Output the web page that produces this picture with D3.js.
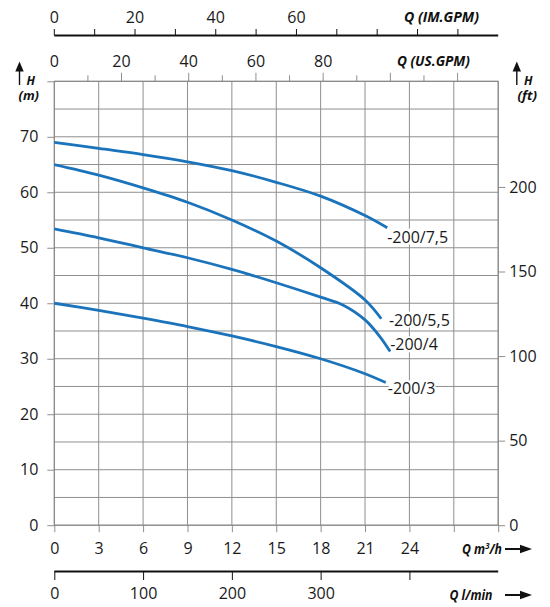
<!DOCTYPE html>
<html>
<head>
<meta charset="utf-8">
<script src="https://cdn.jsdelivr.net/npm/d3@7"></script>
<style>
  html, body { margin: 0; padding: 0; background: #fff; }
  svg { display: block; }
  text { font-family: "Open Sans", "Noto Sans", sans-serif; }
</style>
</head>
<body>
<svg id="chart" width="550" height="607"></svg>
<script>
// Pump performance curves: head H versus flow Q for four pump models

const seriesNames = ["-200/7,5", "-200/5,5", "-200/4", "-200/3"];

const flow75 = [0, 3, 6, 9, 12, 15, 18, 21, 22.5];
const head75 = [69.0, 67.9, 66.8, 65.5, 63.9, 61.8, 59.3, 55.8, 53.6];

const flow55 = [0, 3, 6, 9, 12, 15, 18, 21, 22.1];
const head55 = [65.0, 63.1, 60.8, 58.2, 55.0, 51.2, 46.4, 40.6, 37.2];

const flow4 = [0, 3, 6, 9, 12, 15, 18, 19.5, 21, 22, 22.7];
const head4 = [53.4, 51.8, 50.0, 48.2, 46.1, 43.7, 41.1, 39.7, 37.0, 34.0, 31.3];

const flow3 = [0, 3, 6, 9, 12, 15, 18, 21, 22.4];
const head3 = [40.0, 38.7, 37.3, 35.8, 34.1, 32.2, 30.0, 27.3, 25.7];

// Tick labels for every scale
const flowTicksM3h = [0, 3, 6, 9, 12, 15, 18, 21, 24];
const flowTicksLmin = [0, 100, 200, 300];
const flowTicksUsGpm = [0, 20, 40, 60, 80];
const flowTicksImGpm = [0, 20, 40, 60];
const headTicksM = [0, 10, 20, 30, 40, 50, 60, 70];
const headTicksFt = [0, 50, 100, 150, 200];

// Unit conversions from m3/h and metres
const M3H_TO_LMIN = 1000 / 60;
const M3H_TO_USGPM = 4.402868;
const M3H_TO_IMGPM = 3.666154;
const M_TO_FT = 1 / 0.3048;

const svg = d3.select("#chart");
const FONT = 16;
const GRID = "#8f8f8f";
const BLUE = "#1b74bb";

// Primary scales
const x = d3.scaleLinear().domain([0, 30]).range([54.3, 498.2]);
const y = d3.scaleLinear().domain([0, 80]).range([525.2, 81.3]);

// Secondary scales sharing the same pixel ranges
const xLmin = d3.scaleLinear().domain(x.domain().map(d => d * M3H_TO_LMIN)).range(x.range());
const xUs = d3.scaleLinear().domain(x.domain().map(d => d * M3H_TO_USGPM)).range(x.range());
const xIm = d3.scaleLinear().domain(x.domain().map(d => d * M3H_TO_IMGPM)).range(x.range());
const yFt = d3.scaleLinear().domain(y.domain().map(d => d * M_TO_FT)).range(y.range());

const [x0, x1] = x.range();
const [yBottom, yTop] = y.range();

// ---- Grid ----
const grid = svg.append("g").attr("stroke", GRID).attr("stroke-width", 1);
grid.selectAll(".v").data(d3.range(0, 31, 3)).join("line")
  .attr("x1", d => x(d)).attr("x2", d => x(d))
  .attr("y1", yTop).attr("y2", yBottom);
grid.selectAll(".h").data(d3.range(0, 81, 5)).join("line")
  .attr("x1", x0).attr("x2", x1)
  .attr("y1", d => y(d)).attr("y2", d => y(d));

function styleAxis(g, color) {
  g.select(".domain").remove();
  g.selectAll(".tick line").attr("stroke", color).attr("stroke-width", 1);
  g.selectAll(".tick text")
    .attr("font-family", "'Open Sans', 'Noto Sans', sans-serif")
    .attr("font-size", FONT).attr("fill", "#1a1a1a");
}

// ---- Left axis: metres ----
svg.append("g").attr("transform", `translate(${x0},0)`)
  .call(d3.axisLeft(y).tickValues(d3.range(0, 81, 10)).tickSize(7).tickPadding(9)
    .tickFormat(d => headTicksM.includes(d) ? d : ""))
  .call(g => styleAxis(g, GRID));

// ---- Right axis: feet ----
svg.append("g").attr("transform", `translate(${x1},0)`)
  .call(d3.axisRight(yFt).tickValues(headTicksFt).tickSize(7).tickPadding(4))
  .call(g => styleAxis(g, GRID));

// ---- Bottom axis: m3/h ----
svg.append("g").attr("transform", `translate(0,${yBottom})`)
  .call(d3.axisBottom(x).tickValues(d3.range(0, 31, 3)).tickSize(7).tickPadding(10)
    .tickFormat(d => flowTicksM3h.includes(d) ? d : ""))
  .call(g => styleAxis(g, GRID));

// ---- Lower axis: l/min ----
const yLmin = 571.5;
svg.append("line").attr("x1", x0).attr("x2", x1).attr("y1", yLmin).attr("y2", yLmin)
  .attr("stroke", "#111").attr("stroke-width", 2);
svg.append("g").attr("transform", `translate(0,${yLmin})`)
  .call(d3.axisBottom(xLmin).tickValues([0, 100, 200, 300, 400]).tickSize(8.5).tickPadding(8)
    .tickFormat(d => flowTicksLmin.includes(d) ? d : ""))
  .call(g => styleAxis(g, "#111"));

// ---- Upper axis on the frame: US gallons per minute ----
const usTicks = d3.range(10, 121, 10);
svg.append("g").selectAll("line").data(usTicks).join("line")
  .attr("x1", d => xUs(d)).attr("x2", d => xUs(d))
  .attr("y1", yTop).attr("y2", d => yTop - (d % 20 === 0 ? 8.5 : 6))
  .attr("stroke", GRID).attr("stroke-width", 1);
svg.append("g").selectAll("text").data(flowTicksUsGpm).join("text")
  .attr("x", d => xUs(d)).attr("y", 66.8)
  .attr("text-anchor", "middle").attr("font-size", FONT).attr("fill", "#1a1a1a")
  .text(d => d);

// ---- Topmost axis: imperial gallons per minute ----
const yIm = 35.5;
svg.append("line").attr("x1", x0).attr("x2", x1).attr("y1", yIm).attr("y2", yIm)
  .attr("stroke", "#111").attr("stroke-width", 2);
svg.append("g").selectAll("line").data(d3.range(0, 101, 10)).join("line")
  .attr("x1", d => xIm(d)).attr("x2", d => xIm(d))
  .attr("y1", yIm).attr("y2", yIm - 6.5)
  .attr("stroke", "#111").attr("stroke-width", 1);
svg.append("g").selectAll("text").data(flowTicksImGpm).join("text")
  .attr("x", d => xIm(d)).attr("y", 23.4)
  .attr("text-anchor", "middle").attr("font-size", FONT).attr("fill", "#1a1a1a")
  .text(d => d);

// ---- Frame ----
svg.append("rect")
  .attr("x", x0).attr("y", yTop).attr("width", x1 - x0).attr("height", yBottom - yTop)
  .attr("fill", "none").attr("stroke", "#858585").attr("stroke-width", 1);

// ---- Unit captions (bold italic) ----
function caption(parts, xPos, yPos, width) {
  const t = svg.append("text").attr("x", xPos).attr("y", yPos)
    .attr("font-size", 14).attr("font-weight", 700).attr("font-style", "italic")
    .attr("fill", "#111");
  parts.forEach(p => {
    const s = t.append("tspan").text(p.text);
    if (p.sup) s.attr("font-size", 9).attr("dy", -5);
    if (p.after) s.attr("dy", 5);
  });
  if (width) t.attr("textLength", width).attr("lengthAdjust", "spacingAndGlyphs");
  return t;
}
caption([{ text: "Q (IM.GPM)" }], 404, 21.5, 75);
caption([{ text: "Q (US.GPM)" }], 397, 66, 73);
caption([{ text: "Q m" }, { text: "3", sup: true }, { text: "/h", after: true }], 462, 554, 40);
caption([{ text: "Q l/min" }], 449.5, 600, 43);

// Flow arrows to the right of the bottom captions
function arrowRight(yPos) {
  svg.append("line").attr("x1", 505).attr("x2", 522).attr("y1", yPos).attr("y2", yPos)
    .attr("stroke", "#111").attr("stroke-width", 2);
  svg.append("path")
    .attr("d", `M520,${yPos - 4.2}L532,${yPos}L520,${yPos + 4.2}Z`).attr("fill", "#111");
}
arrowRight(549);
arrowRight(595);

// Head arrows and labels at the top corners
function arrowUp(xPos) {
  svg.append("line").attr("x1", xPos).attr("x2", xPos).attr("y1", 85).attr("y2", 69)
    .attr("stroke", "#111").attr("stroke-width", 1.4);
  svg.append("path")
    .attr("d", `M${xPos - 4.2},${71.5}L${xPos},${61.5}L${xPos + 4.2},${71.5}Z`).attr("fill", "#111");
}
arrowUp(19.5);
arrowUp(516.8);
const hStyle = (t, w) => t.attr("font-size", 13).attr("font-weight", 700)
  .attr("font-style", "italic").attr("fill", "#111")
  .attr("textLength", w).attr("lengthAdjust", "spacingAndGlyphs");
svg.append("text").attr("x", 26.5).attr("y", 84.5).text("H").call(hStyle, 8.5);
svg.append("text").attr("x", 18.5).attr("y", 100).text("(m)").call(hStyle, 20.5);
svg.append("text").attr("x", 524).attr("y", 84.5).text("H").call(hStyle, 8.5);
svg.append("text").attr("x", 517.5).attr("y", 100).text("(ft)").call(hStyle, 19.5);

// ---- Performance curves ----
const curves = [
  { name: seriesNames[0], q: flow75, h: head75, dx: 0, dy: 9 },
  { name: seriesNames[1], q: flow55, h: head55, dx: 7.6, dy: 1 },
  { name: seriesNames[2], q: flow4, h: head4, dx: 0, dy: -7 },
  { name: seriesNames[3], q: flow3, h: head3, dx: 2, dy: 6 }
];

const line = d3.line()
  .x(d => x(d[0])).y(d => y(d[1]))
  .curve(d3.curveCatmullRom.alpha(0.5));

svg.append("g").selectAll("path").data(curves).join("path")
  .attr("d", c => line(c.q.map((q, i) => [q, c.h[i]])))
  .attr("fill", "none").attr("stroke", BLUE).attr("stroke-width", 2.8)
  .attr("stroke-linecap", "butt");

// Curve names at the end of each curve, on a white backing
const labels = svg.append("g");
curves.forEach(c => {
  const n = c.q.length - 1;
  const g = labels.append("g");
  const t = g.append("text")
    .attr("x", x(c.q[n]) + c.dx).attr("y", y(c.h[n]) + c.dy)
    .attr("dy", "0.36em")
    .attr("font-size", FONT).attr("fill", "#1a1a1a")
    .text(c.name);
  const b = t.node().getBBox();
  g.insert("rect", "text")
    .attr("x", b.x + 1).attr("y", b.y + 3).attr("width", b.width - 1).attr("height", b.height - 6)
    .attr("fill", "#fff");
});
</script>
</body>
</html>
